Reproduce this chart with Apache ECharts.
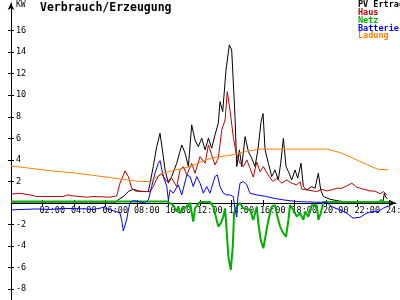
<!DOCTYPE html>
<html>
<head>
<meta charset="utf-8">
<style>html,body{margin:0;padding:0;background:#fff;}#c{width:400px;height:300px;}</style>
<script src="https://cdn.jsdelivr.net/npm/echarts@6/dist/echarts.min.js"></script>
</head>
<body>
<div id="c"></div>
<script>
// Series names
const seriesNames = ['PV Ertrag', 'Haus', 'Netz', 'Batterie', 'Ladung'];
// Tick values
const xTicks = [2, 4, 6, 8, 10, 12, 14, 16, 18, 20, 22, 24];
const yTicksPos = [2, 4, 6, 8, 10, 12, 14, 16];
const yTicksNeg = [-8, -6, -4, -2];
// [hour, kW] pairs
const pv = [[0,0],[6.6,0],[6.71,0.2],[7.13,0.6],[7.45,1.06],[7.77,1.28],[8.08,1.12],[8.51,1.06],[8.72,1.06],[8.83,1.84],[9.03,3.38],[9.25,5.23],[9.46,6.47],[9.61,4.93],[9.78,3.07],[9.99,1.84],[10.2,2.45],[10.52,3.69],[10.84,5.39],[11.05,4.62],[11.26,3.38],[11.47,7.25],[11.68,5.85],[11.89,5.23],[12.11,6.01],[12.32,4.93],[12.53,6.01],[12.74,5.08],[12.95,6.32],[13.16,7.4],[13.27,9.41],[13.44,8.48],[13.65,12.35],[13.86,14.67],[14.01,14.2],[14.22,8.02],[14.33,3.38],[14.5,4.93],[14.65,3.38],[14.86,6.16],[15.07,4.77],[15.28,4.16],[15.49,3.38],[15.68,5.0],[15.87,7.5],[16.0,8.3],[16.13,4.93],[16.34,3.69],[16.55,2.45],[16.76,3.07],[16.97,2.14],[17.12,3.69],[17.29,6.0],[17.46,3.38],[17.61,2.92],[17.82,2.14],[18.03,3.07],[18.2,2.3],[18.41,3.69],[18.56,1.52],[18.77,1.22],[19.09,1.52],[19.3,1.37],[19.51,2.76],[19.66,1.22],[19.83,0.6],[20.25,0.35],[20.68,0.22],[21.1,0.13],[21.5,0],[23.6,0],[23.7,0.9],[23.8,0.5],[23.9,0.4]];
const haus = [[0,0.82],[0.57,0.9],[1.21,0.75],[1.63,0.6],[3.3,0.6],[3.62,0.75],[3.94,0.66],[4.81,0.54],[5.21,0.6],[6.29,0.54],[6.71,0.66],[6.92,1.84],[7.24,2.98],[7.45,2.45],[7.66,1.37],[7.87,1.12],[7.98,0.97],[8.19,1.06],[8.83,1.06],[9.03,1.52],[9.33,2.45],[9.57,2.7],[9.89,1.99],[10.2,2.3],[10.52,1.52],[10.73,3.07],[10.94,3.38],[11.16,2.6],[11.47,3.69],[11.68,2.76],[12.0,4.3],[12.32,3.69],[12.53,5.39],[12.74,4.46],[12.95,3.53],[13.16,4.16],[13.38,6.78],[13.59,7.71],[13.73,10.33],[13.9,8.64],[14.11,6.16],[14.29,4.62],[14.54,3.69],[14.75,3.38],[14.97,4.0],[15.17,3.23],[15.38,2.4],[15.6,3.8],[15.81,2.9],[16.02,3.38],[16.32,2.6],[16.63,1.99],[16.87,2.3],[17.19,1.84],[17.5,2.14],[17.82,1.84],[18.14,1.68],[18.35,1.99],[18.46,1.28],[18.77,1.22],[19.41,1.06],[19.73,1.28],[20.04,1.12],[20.36,1.22],[20.68,1.37],[21.0,1.37],[21.31,1.59],[21.63,1.84],[21.95,1.47],[22.37,1.28],[22.79,1.12],[23.11,1.1],[23.43,0.85],[23.64,1.06],[23.85,0.75]];
const netz = [[0,0.15],[1.63,0.15],[1.75,0.3],[1.9,0.15],[9.9,0.15],[10.3,-0.2],[10.52,-0.8],[10.62,-0.3],[10.73,-0.95],[10.94,-0.5],[11.16,-0.3],[11.37,0],[11.57,-1.72],[11.68,-0.48],[12.0,0.1],[12.63,0.1],[12.84,-0.33],[13.16,-2.19],[13.31,-1.9],[13.48,-1.26],[13.59,-0.5],[13.7,-2.8],[13.8,-4.97],[13.95,-6.2],[14.08,-4.04],[14.16,-0.95],[14.33,-0.3],[14.54,0],[14.75,-0.5],[15.17,-0.64],[15.38,-1.57],[15.6,-0.33],[15.7,-1.88],[15.85,-3.42],[16.02,-4.2],[16.19,-2.8],[16.34,-1.57],[16.55,-0.33],[16.76,-0.2],[16.91,-1.26],[17.08,-2.19],[17.29,-2.8],[17.46,-3.12],[17.61,-1.57],[17.71,-0.2],[17.92,-0.64],[18.14,-1.26],[18.35,-0.95],[18.56,-1.57],[18.67,-0.8],[18.88,-1.26],[19.09,-0.2],[19.41,-0.2],[19.51,-1.57],[19.66,-0.95],[19.83,0.1],[23.4,0.1],[23.5,0.3],[23.6,0.1],[24,0.1]];
const batterie = [[0,-0.64],[1.63,-0.55],[2.48,-0.6],[3.3,-0.5],[4.81,-0.55],[5.21,-0.6],[5.65,-0.48],[5.84,-0.4],[6.29,-0.64],[6.71,-0.8],[6.92,-0.95],[7.03,-1.6],[7.13,-2.6],[7.24,-2.7],[7.35,-1.5],[7.45,-0.64],[7.56,0.04],[7.77,0.22],[7.87,0.29],[8.19,0.1],[8.51,0],[8.72,0.29],[8.93,1.52],[9.14,2.76],[9.35,3.69],[9.46,3.93],[9.67,2.45],[9.89,1.52],[9.99,0.29],[10.1,1.22],[10.3,0.91],[10.62,1.68],[10.84,0.75],[11.16,2.6],[11.37,2.45],[11.57,1.52],[11.79,2.45],[12.0,1.84],[12.21,0.91],[12.43,1.52],[12.63,0.91],[12.95,2.45],[13.1,2.6],[13.27,1.52],[13.48,0.91],[13.7,0.75],[13.9,0.75],[14.11,0.6],[14.22,-0.6],[14.33,-1.3],[14.4,0.5],[14.54,1.84],[14.75,1.99],[14.97,1.68],[15.17,0.9],[15.6,0.75],[16.23,0.6],[16.63,0.45],[17.29,0.29],[18.14,0.13],[20.04,0.05],[20.36,-0.33],[20.89,-0.64],[21.31,-0.95],[21.73,-1.41],[22.16,-1.32],[22.58,-0.95],[22.9,-0.8],[23.3,-0.8],[23.64,-0.48],[23.94,-0.27]];
const ladung = [[0,3.44],[2.48,3.0],[4.17,2.76],[6.29,2.36],[7.35,2.14],[8.19,2.0],[8.83,2.0],[9.57,2.76],[10.29,3.0],[11.37,3.38],[12.19,3.9],[12.83,4.2],[13.9,4.43],[14.97,4.8],[15.81,5.0],[20.04,5.0],[20.89,4.68],[21.52,4.3],[22.16,3.84],[22.79,3.44],[23.3,3.13],[23.94,3.07]];

const colors = ['#000000', '#c00000', '#00b000', '#0000ff', '#ff8000'];
const dataSets = [pv, haus, netz, batterie, ladung];
const mono = 'DejaVu Sans Mono';
const pad = n => (n < 10 ? '0' : '') + n;

const chart = echarts.init(document.getElementById('c'), null, {renderer: 'canvas'});
const xMin = 0, xMax = 24.44, yMin = -9.0, yMax = 18.56;
const blk = {color: '#000', width: 1};
const lblFont = {fontFamily: mono, fontSize: 8.5, color: '#000'};

chart.setOption({
  animation: false,
  backgroundColor: '#ffffff',
  grid: [
    {left: 11, right: 4, top: 3, bottom: 97, containLabel: false, outerBoundsMode: 'none'},
    {left: 11, right: 4, top: 203, bottom: 0, containLabel: false, outerBoundsMode: 'none'}
  ],
  legend: {
    orient: 'vertical', left: 353, top: 0.5, padding: 0, itemGap: -1.2,
    itemWidth: 0, itemHeight: 7, icon: 'none', selectedMode: false,
    textStyle: {fontFamily: mono, fontSize: 8.5, fontWeight: 'bold'},
    data: seriesNames.map((n, i) => ({name: n, textStyle: {color: colors[i]}}))
  },
  graphic: [
    {type: 'text', left: 40, top: 2, style: {text: 'Verbrauch/Erzeugung', font: 'bold 11.5px "DejaVu Sans Mono"', fill: '#000'}},
    {type: 'text', left: 16, top: 1, style: {text: 'KW', font: '8px "DejaVu Sans Mono"', fill: '#000'}}
  ],
  xAxis: [
    {gridIndex: 0, type: 'value', min: xMin, max: xMax, splitLine: {show: false}, position: 'bottom',
     axisLine: {onZero: false, lineStyle: blk, symbol: ['none', 'arrow'], symbolSize: [5, 7]},
     axisTick: {customValues: xTicks, length: 3, lineStyle: blk},
     axisLabel: Object.assign({customValues: xTicks, align: 'center', margin: 3, showMinLabel: true, showMaxLabel: true,
       formatter: v => '{a|' + pad(v) + ':00}',
       rich: {a: Object.assign({width: 45, align: 'right'}, lblFont)}}, lblFont)},
    {gridIndex: 0, type: 'value', min: xMin, max: xMax, splitLine: {show: false}, position: 'bottom',
     axisLine: {show: false, onZero: false},
     axisTick: {customValues: xTicks, inside: true, length: 3, lineStyle: blk},
     axisLabel: {show: false}},
    {gridIndex: 1, type: 'value', min: xMin, max: xMax, show: false}
  ],
  yAxis: [
    {gridIndex: 0, type: 'value', min: 0, max: yMax, splitLine: {show: false},
     axisLine: {onZero: false, lineStyle: blk, symbol: ['none', 'arrow'], symbolSize: [5, 7]},
     axisTick: {customValues: yTicksPos, length: 3, lineStyle: blk},
     axisLabel: Object.assign({customValues: yTicksPos, inside: true, margin: 5}, lblFont)},
    {gridIndex: 0, type: 'value', min: 0, max: yMax, splitLine: {show: false}, position: 'left',
     axisLine: {show: false, onZero: false},
     axisTick: {customValues: yTicksPos, inside: true, length: 3, lineStyle: blk},
     axisLabel: {show: false}},
    {gridIndex: 1, type: 'value', min: yMin, max: 0, splitLine: {show: false},
     axisLine: {onZero: false, lineStyle: blk},
     axisTick: {customValues: yTicksNeg, length: 3, lineStyle: blk},
     axisLabel: Object.assign({customValues: yTicksNeg, inside: true, margin: 5}, lblFont)},
    {gridIndex: 1, type: 'value', min: yMin, max: 0, splitLine: {show: false}, position: 'left',
     axisLine: {show: false, onZero: false},
     axisTick: {customValues: yTicksNeg, inside: true, length: 3, lineStyle: blk},
     axisLabel: {show: false}}
  ],
  series: seriesNames.map((n, i) => ({
    name: n, type: 'line', xAxisIndex: 0, yAxisIndex: 0, clip: false,
    data: dataSets[i], showSymbol: false, symbol: 'none',
    lineStyle: {color: colors[i], width: i === 2 ? 2 : 1},
    itemStyle: {color: colors[i]},
    z: 2 + i
  }))
});
</script>
</body>
</html>
